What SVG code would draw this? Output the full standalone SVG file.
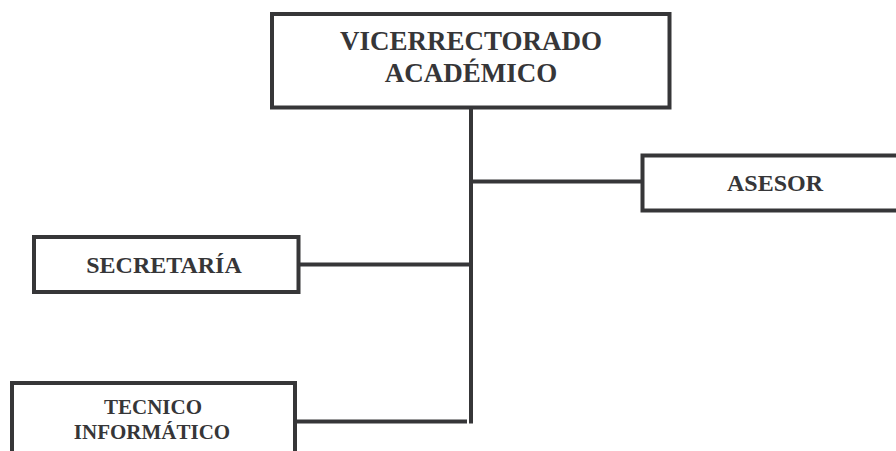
<svg xmlns="http://www.w3.org/2000/svg" width="896" height="451" viewBox="0 0 896 451">
<style>
.box{fill:#fff;stroke:#363638;stroke-width:4}
.ln{fill:none;stroke:#363638;stroke-width:4}
.t{font-family:"Liberation Serif","Times New Roman",serif;font-weight:bold;fill:#363638;text-anchor:middle}
</style>
<rect width="896" height="451" fill="#fff"/>
<g id="connectors">
<path class="ln" d="M471 107 V423.5"/>
<path class="ln" d="M471 181.5 H642"/>
<path class="ln" d="M300 264.5 H471"/>
<path class="ln" d="M297 421.5 H467"/>
</g>
<g id="vicerrectorado">
<rect class="box" x="272" y="14" width="397.5" height="93.5"/>
<text class="t" x="471" y="50" font-size="27">VICERRECTORADO</text>
<text class="t" x="471" y="81.5" font-size="27">ACADÉMICO</text>
</g>
<g id="asesor">
<rect class="box" x="642.5" y="155.5" width="280" height="55"/>
<text class="t" x="775" y="190.5" font-size="24">ASESOR</text>
</g>
<g id="secretaria">
<rect class="box" x="34" y="237" width="264.5" height="55"/>
<text class="t" x="164" y="272.5" font-size="24">SECRETARÍA</text>
</g>
<g id="tecnico">
<rect class="box" x="12" y="383" width="283" height="100"/>
<text class="t" x="153" y="414.3" font-size="21">TECNICO</text>
<text class="t" x="152" y="439.3" font-size="21">INFORMÁTICO</text>
</g>
</svg>
